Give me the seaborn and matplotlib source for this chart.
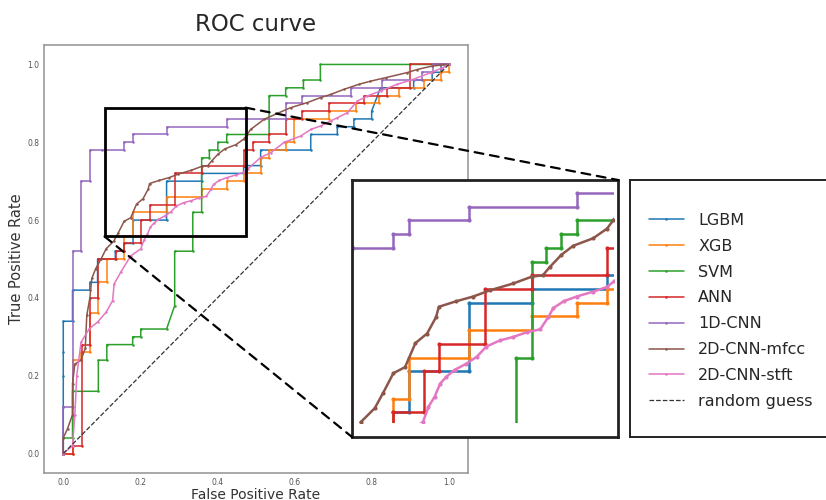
import pandas as pd
import seaborn as sns
import matplotlib.pyplot as plt
from matplotlib.patches import Rectangle, ConnectionPatch
from matplotlib.lines import Line2D

# ROC points (fpr, tpr)
lgbm = [(0, 0), (0, 0.12), (0, 0.20), (0, 0.26), (0, 0.34), (0.024, 0.34), (0.024, 0.42),
        (0.069, 0.42), (0.069, 0.44), (0.089, 0.44), (0.089, 0.50), (0.135, 0.50),
        (0.135, 0.52), (0.158, 0.52), (0.158, 0.54), (0.181, 0.54), (0.181, 0.60),
        (0.268, 0.60), (0.268, 0.70), (0.359, 0.70), (0.359, 0.72), (0.468, 0.72),
        (0.468, 0.74), (0.512, 0.74), (0.512, 0.78), (0.642, 0.78), (0.642, 0.82),
        (0.711, 0.82), (0.711, 0.84), (0.754, 0.84), (0.754, 0.86), (0.80, 0.86),
        (0.80, 0.88), (0.823, 0.94), (0.909, 0.94), (0.909, 0.96), (0.957, 0.96),
        (0.957, 0.98), (0.98, 0.98), (0.98, 1.0), (1.0, 1.0)]
xgb = [(0, 0), (0.024, 0), (0.024, 0.24), (0.046, 0.24), (0.046, 0.26), (0.069, 0.26),
       (0.069, 0.36), (0.091, 0.36), (0.091, 0.44), (0.113, 0.44), (0.113, 0.50),
       (0.158, 0.50), (0.158, 0.56), (0.181, 0.56), (0.181, 0.62), (0.268, 0.62),
       (0.268, 0.66), (0.359, 0.66), (0.359, 0.68), (0.424, 0.68), (0.424, 0.70),
       (0.468, 0.70), (0.468, 0.72), (0.512, 0.72), (0.512, 0.76), (0.534, 0.76),
       (0.534, 0.78), (0.577, 0.78), (0.577, 0.80), (0.598, 0.80), (0.598, 0.86),
       (0.69, 0.86), (0.69, 0.88), (0.76, 0.88), (0.76, 0.90), (0.82, 0.90), (0.82, 0.92),
       (0.87, 0.92), (0.87, 0.94), (0.935, 0.94), (0.935, 0.96), (0.98, 0.96),
       (0.98, 0.98), (1.0, 0.98), (1.0, 1.0)]
svm = [(0, 0), (0, 0.04), (0.024, 0.04), (0.024, 0.16), (0.091, 0.16), (0.091, 0.24),
       (0.113, 0.24), (0.113, 0.28), (0.18, 0.28), (0.18, 0.30), (0.201, 0.30),
       (0.201, 0.32), (0.268, 0.32), (0.289, 0.38), (0.289, 0.52), (0.336, 0.52),
       (0.336, 0.62), (0.359, 0.62), (0.359, 0.76), (0.379, 0.76), (0.379, 0.78),
       (0.401, 0.78), (0.401, 0.80), (0.424, 0.80), (0.424, 0.82), (0.534, 0.82),
       (0.534, 0.92), (0.577, 0.92), (0.577, 0.94), (0.623, 0.94), (0.623, 0.96),
       (0.667, 0.96), (0.667, 1.0), (1.0, 1.0)]
ann = [(0, 0), (0.024, 0), (0.024, 0.02), (0.048, 0.02), (0.048, 0.28), (0.069, 0.28),
       (0.069, 0.40), (0.089, 0.40), (0.089, 0.50), (0.137, 0.50), (0.137, 0.52),
       (0.158, 0.52), (0.158, 0.54), (0.202, 0.54), (0.202, 0.60), (0.224, 0.60),
       (0.224, 0.64), (0.291, 0.64), (0.291, 0.72), (0.359, 0.72), (0.359, 0.74),
       (0.468, 0.74), (0.468, 0.78), (0.491, 0.78), (0.491, 0.80), (0.534, 0.80),
       (0.534, 0.82), (0.577, 0.82), (0.577, 0.86), (0.62, 0.86), (0.62, 0.88),
       (0.69, 0.88), (0.69, 0.90), (0.78, 0.90), (0.78, 0.92), (0.84, 0.92),
       (0.84, 0.94), (0.90, 0.94), (0.90, 1.0), (1.0, 1.0)]
cnn1d = [(0, 0), (0, 0.12), (0.024, 0.12), (0.024, 0.52), (0.046, 0.52), (0.046, 0.70),
         (0.069, 0.70), (0.069, 0.78), (0.10, 0.78), (0.158, 0.78), (0.158, 0.80),
         (0.180, 0.80), (0.180, 0.82), (0.268, 0.82), (0.268, 0.84), (0.424, 0.84),
         (0.424, 0.86), (0.577, 0.86), (0.577, 0.90), (0.62, 0.90), (0.62, 0.92),
         (0.746, 0.92), (0.746, 0.94), (0.827, 0.94), (0.827, 0.96), (0.931, 0.96),
         (0.931, 0.98), (0.96, 0.98), (0.96, 1.0), (1.0, 1.0)]
cnn2d_mfcc = [(0, 0), (0, 0.04), (0.011, 0.064), (0.024, 0.10), (0.024, 0.18), (0.03, 0.23),
              (0.046, 0.24), (0.057, 0.27), (0.061, 0.355), (0.069, 0.40), (0.074, 0.45),
              (0.084, 0.475), (0.098, 0.50), (0.111, 0.526), (0.131, 0.546), (0.143, 0.568),
              (0.158, 0.597), (0.175, 0.606), (0.19, 0.641), (0.207, 0.655), (0.22, 0.679),
              (0.224, 0.694), (0.249, 0.702), (0.274, 0.709), (0.298, 0.718), (0.332, 0.728),
              (0.359, 0.738), (0.375, 0.74), (0.385, 0.752), (0.402, 0.77), (0.419, 0.783),
              (0.448, 0.794), (0.468, 0.808), (0.477, 0.82), (0.486, 0.833), (0.521, 0.859),
              (0.555, 0.874), (0.59, 0.889), (0.633, 0.902), (0.668, 0.915), (0.694, 0.923),
              (0.728, 0.936), (0.767, 0.949), (0.797, 0.957), (0.836, 0.966), (0.892, 0.979),
              (0.918, 0.987), (0.957, 0.996), (1.0, 1.0)]
cnn2d_stft = [(0, 0), (0.024, 0.02), (0.03, 0.10), (0.035, 0.20), (0.046, 0.286),
              (0.067, 0.32), (0.089, 0.338), (0.111, 0.363), (0.128, 0.393), (0.132, 0.436),
              (0.149, 0.466), (0.175, 0.508), (0.201, 0.526), (0.209, 0.548), (0.218, 0.563),
              (0.226, 0.582), (0.235, 0.592), (0.247, 0.602), (0.264, 0.611), (0.279, 0.621),
              (0.293, 0.636), (0.313, 0.645), (0.332, 0.65), (0.352, 0.657), (0.371, 0.661),
              (0.383, 0.679), (0.39, 0.692), (0.405, 0.702), (0.424, 0.709), (0.448, 0.716),
              (0.468, 0.723), (0.478, 0.731), (0.512, 0.761), (0.538, 0.773), (0.573, 0.80),
              (0.616, 0.816), (0.642, 0.833), (0.668, 0.842), (0.694, 0.855), (0.711, 0.863),
              (0.737, 0.876), (0.763, 0.906), (0.789, 0.919), (0.823, 0.932), (0.866, 0.949),
              (0.909, 0.962), (0.953, 0.979), (0.983, 0.991), (1.0, 1.0)]

model_names = ["LGBM", "XGB", "SVM", "ANN", "1D-CNN", "2D-CNN-mfcc", "2D-CNN-stft"]
model_points = [lgbm, xgb, svm, ann, cnn1d, cnn2d_mfcc, cnn2d_stft]
guess = [0, 1]

# zoomed region (rectangle drawn on main axes) and inset view
zoom_x = (0.107, 0.473)
zoom_y = (0.558, 0.889)
inset_xlim = (0.098, 0.484)
inset_ylim = (0.504, 0.879)
inset_clip_x = (0.10, 0.478)
inset_clip_y = (0.525, 0.88)

rows = []
for name, pts in zip(model_names, model_points):
    for x, y in pts:
        rows.append((name, x, y))
df = pd.DataFrame(rows, columns=["model", "fpr", "tpr"])

sns.set_style("white")
palette = sns.color_palette("tab10", len(model_names))

W, H = 826, 500
fig = plt.figure(figsize=(W / 100, H / 100), dpi=100)
ax = fig.add_axes([44 / W, 1 - 473 / H, 424 / W, 428 / H])
axins = fig.add_axes([352 / W, 1 - 437 / H, 266 / W, 257 / H])
legax = fig.add_axes([630 / W, 1 - 437 / H, 215 / W, 257 / H])

for name, color in zip(model_names, palette):
    sub = df[df.model == name]
    sns.lineplot(data=sub, x="fpr", y="tpr", sort=False, estimator=None, ax=ax,
                 color=color, lw=1.1, marker="o", markersize=1.8, markeredgewidth=0,
                 legend=False)
    sns.lineplot(data=sub, x="fpr", y="tpr", sort=False, estimator=None, ax=axins,
                 color=color, lw=1.8, marker="o", markersize=3, markeredgewidth=0,
                 legend=False)
sns.lineplot(x=guess, y=guess, ax=ax, color="#333333", lw=0.9, linestyle="--")

ax.set_xlim(-0.05, 1.05)
ax.set_ylim(-0.05, 1.05)
ax.set_xticks([0, 0.2, 0.4, 0.6, 0.8, 1.0])
ax.set_yticks([0, 0.2, 0.4, 0.6, 0.8, 1.0])
ax.tick_params(labelsize=5.5, length=2, width=0.6, colors="#555555", pad=1.5)
for s in ax.spines.values():
    s.set_color("#999999")
    s.set_linewidth(1.2)
ax.set_title("ROC curve", fontsize=16.5, pad=10)
ax.set_xlabel("False Positive Rate", fontsize=10, color="#333333", labelpad=0.5)
ax.set_ylabel("True Positive Rate", fontsize=10.5, color="#333333", labelpad=2)

# zoom rectangle on the main axes
ax.add_patch(Rectangle((zoom_x[0], zoom_y[0]), zoom_x[1] - zoom_x[0], zoom_y[1] - zoom_y[0],
                       fill=False, ec="black", lw=2, zorder=5))

# inset
axins.set_xlim(*inset_xlim)
axins.set_ylim(*inset_ylim)
axins.set_xticks([])
axins.set_yticks([])
axins.set_xlabel("")
axins.set_ylabel("")
for s in axins.spines.values():
    s.set_color("#222222")
    s.set_linewidth(2)
clip = Rectangle((inset_clip_x[0], inset_clip_y[0]), inset_clip_x[1] - inset_clip_x[0],
                 inset_clip_y[1] - inset_clip_y[0], transform=axins.transData)
for ln in axins.lines:
    ln.set_clip_path(clip)

for xyA, xyB in [((zoom_x[1], zoom_y[1]), (1, 1)), ((zoom_x[0], zoom_y[0]), (0, 0))]:
    con = ConnectionPatch(xyA=xyA, coordsA=ax.transData, xyB=xyB, coordsB=axins.transAxes,
                          color="black", lw=1.6, linestyle=(0, (4, 3)))
    fig.add_artist(con)

# legend box
legax.set_xticks([])
legax.set_yticks([])
for s in legax.spines.values():
    s.set_color("#222222")
    s.set_linewidth(1.4)
handles = [Line2D([], [], color=c, lw=1.1, marker="o", markersize=1.8, markeredgewidth=0)
           for c in palette]
handles.append(Line2D([], [], color="#333333", lw=0.9, linestyle="--"))
labels = model_names + ["random guess"]
legax.legend(handles, labels, loc="upper left", bbox_to_anchor=(0.02, 0.928), frameon=False,
             fontsize=11.5, handlelength=2.2, handletextpad=0.9, labelspacing=0.68)

fig.savefig("out.png", dpi=100)
